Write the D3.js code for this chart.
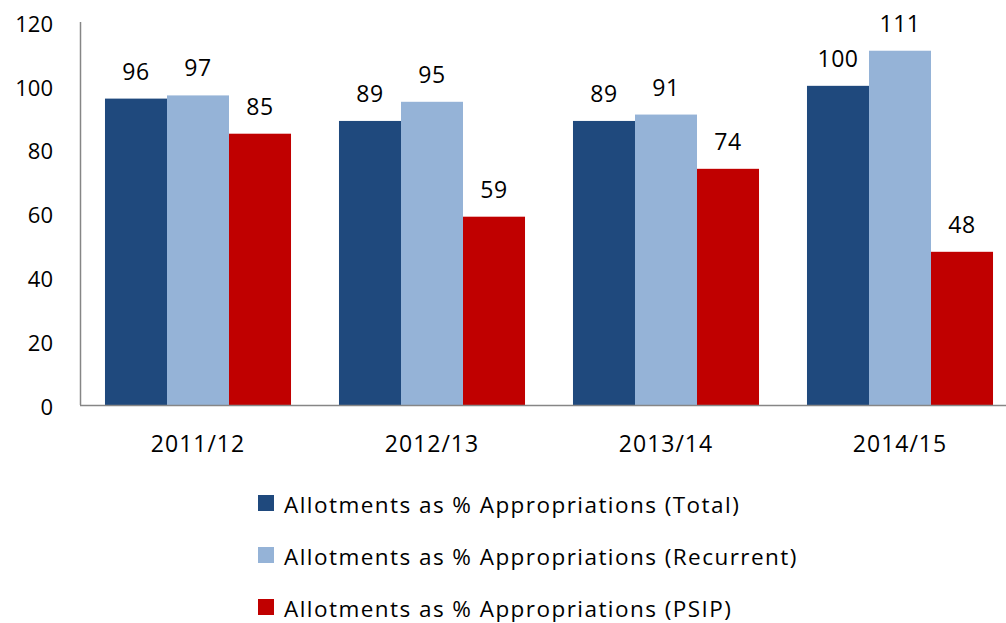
<!DOCTYPE html>
<html>
<head>
  <meta charset="utf-8">
  <script src="https://d3js.org/d3.v7.min.js"></script>
  <style>
    body { margin: 0; background: #fff; }
    svg text { font-family: "Open Sans", "Noto Sans", sans-serif; fill: #000; }
  </style>
</head>
<body>
<script>
  // chart values
  var years = ["2011/12", "2012/13", "2013/14", "2014/15"];
  var seriesNames = [
    "Allotments as % Appropriations (Total)",
    "Allotments as % Appropriations (Recurrent)",
    "Allotments as % Appropriations (PSIP)"
  ];
  var totalValues = [96, 89, 89, 100];
  var recurrentValues = [97, 95, 91, 111];
  var psipValues = [85, 59, 74, 48];
  var yTicks = [0, 20, 40, 60, 80, 100, 120];
  var colors = ["#1f497d", "#95b3d7", "#c00000"];

  var width = 1006, height = 623;
  var allValues = [totalValues, recurrentValues, psipValues];

  var svg = d3.select("body").append("svg")
      .attr("width", width)
      .attr("height", height);

  var x = d3.scaleBand()
      .domain(years)
      .range([81, 1017])
      .paddingInner(0.205)
      .paddingOuter(0.1025);

  var xs = d3.scaleBand()
      .domain(d3.range(3))
      .range([0, x.bandwidth()]);

  var y = d3.scaleLinear()
      .domain([0, 120])
      .range([405, 22]);

  // y axis labels (no tick marks)
  var yAxis = d3.axisLeft(y).tickValues(yTicks).tickSize(0).tickPadding(0);
  var gy = svg.append("g")
      .attr("transform", "translate(53,0)")
      .call(yAxis);
  gy.select(".domain").remove();
  gy.selectAll("text").style("font-size", "22px").attr("dy", "0.42em");

  svg.append("line")
      .attr("x1", 80.5).attr("x2", 80.5)
      .attr("y1", y(120)).attr("y2", y(0))
      .attr("stroke", "#868686").attr("stroke-width", 1.5);

  // bars
  var groups = svg.selectAll("g.year")
      .data(years)
      .enter().append("g")
      .attr("class", "year")
      .attr("transform", function(d) { return "translate(" + x(d) + ",0)"; });

  groups.each(function(d, i) {
    var g = d3.select(this);
    allValues.forEach(function(vals, s) {
      g.append("rect")
        .attr("x", xs(s))
        .attr("y", y(vals[i]))
        .attr("width", xs.bandwidth())
        .attr("height", y(0) - y(vals[i]))
        .attr("fill", colors[s]);
      g.append("text")
        .attr("x", xs(s) + xs.bandwidth() / 2)
        .attr("y", y(vals[i]) - 19)
        .attr("text-anchor", "middle")
        .style("font-size", "23px")
        .style("letter-spacing", "0.5px")
        .text(vals[i]);
    });
  });

  // x axis
  var xAxis = d3.axisBottom(x).tickSize(0).tickPadding(0);
  var gx = svg.append("g")
      .attr("transform", "translate(0,405)")
      .call(xAxis);
  gx.select(".domain").remove();
  gx.selectAll("text")
      .style("font-size", "23px")
      .style("letter-spacing", "1px")
      .attr("dy", null)
      .attr("y", 47);

  svg.append("line")
      .attr("x1", 80).attr("x2", width)
      .attr("y1", 405.5).attr("y2", 405.5)
      .attr("stroke", "#868686").attr("stroke-width", 1.5);

  // legend
  var legend = svg.selectAll("g.legend")
      .data(seriesNames)
      .enter().append("g")
      .attr("class", "legend")
      .attr("transform", function(d, i) { return "translate(258," + (513 + i * 52) + ")"; });

  legend.append("rect")
      .attr("x", 0).attr("y", -18)
      .attr("width", 16).attr("height", 16)
      .attr("fill", function(d, i) { return colors[i]; });

  legend.append("text")
      .attr("x", 26)
      .style("font-size", "22.5px")
      .style("letter-spacing", "1.45px")
      .text(function(d) { return d; });
</script>
</body>
</html>
